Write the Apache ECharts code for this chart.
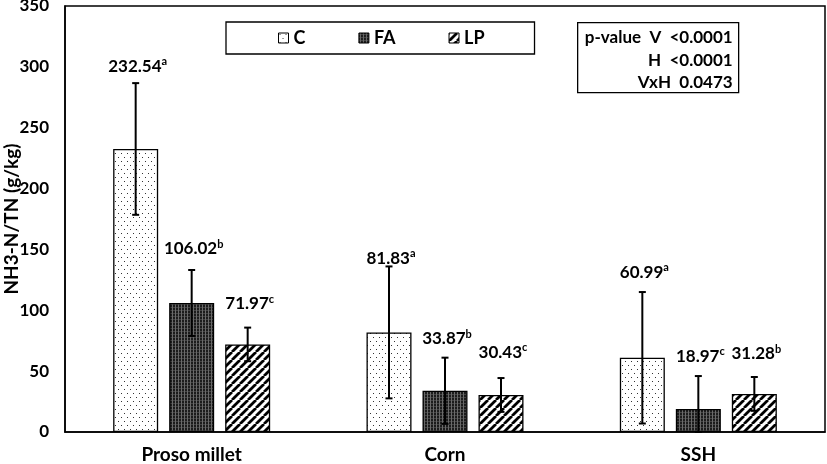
<!DOCTYPE html>
<html><head><meta charset="utf-8">
<script src="https://cdn.jsdelivr.net/npm/echarts@6/dist/echarts.min.js"></script>
<style>html,body{margin:0;padding:0;background:#fff}#c{width:827px;height:464px}</style>
</head><body><div id="c"></div>
<script>
// ---------- data ----------
const categories = ['Proso millet', 'Corn', 'SSH'];
const seriesNames = ['C', 'FA', 'LP'];
const meanC  = [232.54, 81.83, 60.99];
const meanFA = [106.02, 33.87, 18.97];
const meanLP = [71.97, 30.43, 31.28];
const sdC  = [54.1, 54.2, 54.0];
const sdFA = [27.1, 27.2, 27.0];
const sdLP = [13.8, 13.9, 13.9];
const letterC  = ['a', 'a', 'a'];
const letterFA = ['b', 'b', 'c'];
const letterLP = ['c', 'c', 'b'];
const yMin = 0, yMax = 350, yInterval = 50;
const pValueLines = ['p-value  V  <0.0001', 'H  <0.0001', 'VxH  0.0473'];

// ---------- style ----------
const FONT = 'Lato';
const BAR_W = 45, GAP_PX = 11;
// label distance (px) above error bar top, per group/category
const labelGapC  = [17, 8, 20];
const labelGapFA = [21, 19, 20];
const labelGapLP = [24, 26, 23];

function makeTile(w, h, draw) {
  const c = document.createElement('canvas'); c.width = w; c.height = h;
  draw(c.getContext('2d'), w, h); return c;
}
const dotTile = makeTile(6, 8, g => {
  g.fillStyle = '#fff'; g.fillRect(0, 0, 6, 8);
  g.fillStyle = '#333'; g.fillRect(1, 1, 1, 1); g.fillRect(4, 5, 1, 1);
});
const denseTile = makeTile(3, 3, g => {
  g.fillStyle = '#1c1c1c'; g.fillRect(0, 0, 3, 3);
  g.fillStyle = '#6a6a6a'; g.fillRect(1, 0, 1, 3);
  g.fillStyle = '#444'; g.fillRect(0, 1, 1, 1); g.fillRect(2, 1, 1, 1);
});
const stripeTile = makeTile(8, 8, g => {
  g.fillStyle = '#fff'; g.fillRect(0, 0, 8, 8);
  g.strokeStyle = '#000'; g.lineWidth = 2.8; g.beginPath();
  for (const o of [-8, 0, 8]) { g.moveTo(o, 8); g.lineTo(o + 8, 0); }
  g.stroke();
});
const patterns = [dotTile, denseTile, stripeTile].map(t => ({ image: t, repeat: 'repeat' }));

const means = [meanC, meanFA, meanLP];
const sds = [sdC, sdFA, sdLP];
const letters = [letterC, letterFA, letterLP];
const gaps = [labelGapC, labelGapFA, labelGapLP];

const barSeries = seriesNames.map((n, i) => ({
  name: n, type: 'bar', data: means[i],
  barWidth: BAR_W, barGap: (GAP_PX / BAR_W * 100) + '%',
  itemStyle: { color: patterns[i], borderColor: '#000', borderWidth: 1.3 }
}));

const errData = [], errMeta = [];
for (let g = 0; g < 3; g++) for (let c = 0; c < categories.length; c++) {
  errData.push([c, means[g][c], sds[g][c], g]);
  errMeta.push({ letter: letters[g][c], gap: gaps[g][c] });
}

const richStyle = {
  v: { fontSize: 17, fontWeight: 'bold', fontFamily: FONT, fill: '#000', lineHeight: 20 },
  s: { fontSize: 11, fontWeight: 'bold', fontFamily: FONT, fill: '#000', lineHeight: 11, verticalAlign: 'top' }
};

const errSeries = {
  type: 'custom', name: 'err', encode: { x: 0, y: 1 }, data: errData, z: 5,
  renderItem(params, api) {
    const c = api.value(0), m = api.value(1), s = api.value(2), g = api.value(3);
    const off = (g - 1) * (BAR_W + GAP_PX);
    const top = api.coord([c, m + s]);
    const bot = api.coord([c, Math.max(yMin, m - s)]);
    const x = top[0] + off, h = 3.5;
    const meta = errMeta[params.dataIndex];
    const ls = { stroke: '#000', lineWidth: 2 };
    return { type: 'group', children: [
      { type: 'line', shape: { x1: x, y1: top[1], x2: x, y2: bot[1] }, style: ls },
      { type: 'line', shape: { x1: x - h, y1: top[1], x2: x + h, y2: top[1] }, style: ls },
      { type: 'line', shape: { x1: x - h, y1: bot[1], x2: x + h, y2: bot[1] }, style: ls },
      { type: 'text', style: {
          text: '{v|' + m.toFixed(2) + '}{s|' + meta.letter + '}',
          x: x + 2, y: top[1] - meta.gap, align: 'center', verticalAlign: 'middle',
          rich: richStyle, fill: '#000' } }
    ]};
  }
};

const chart = echarts.init(document.getElementById('c'));
chart.setOption({
  animation: false,
  backgroundColor: '#fff',
  grid: { left: 65, right: 2, top: 6, bottom: 32, show: true, borderColor: '#000', borderWidth: 1.5,
          outerBoundsMode: 'none', containLabel: false },
  legend: {
    data: seriesNames, left: 226, top: 22, itemWidth: 10, itemHeight: 10, itemGap: 53,
    padding: [7, 50, 7, 52], borderColor: '#000', borderWidth: 1.3, icon: 'rect',
    itemStyle: { borderColor: '#000', borderWidth: 1 },
    textStyle: { fontSize: 18, fontWeight: 'bold', fontFamily: FONT, color: '#000' }
  },
  xAxis: {
    type: 'category', data: categories,
    axisTick: { show: false },
    axisLine: { lineStyle: { color: '#000', width: 1.5 } },
    axisLabel: { fontSize: 19, fontWeight: 'bold', fontFamily: FONT, color: '#000', margin: 13 }
  },
  yAxis: {
    type: 'value', min: yMin, max: yMax, interval: yInterval,
    name: 'NH3-N/TN (g/kg)', nameLocation: 'middle', nameGap: 44, nameMoveOverlap: false,
    nameTextStyle: { fontSize: 19, fontWeight: 'bold', fontFamily: FONT, color: '#000' },
    axisLine: { show: true, lineStyle: { color: '#000', width: 1.5 } },
    axisTick: { show: false }, splitLine: { show: false },
    axisLabel: { fontSize: 17, fontWeight: 'bold', fontFamily: FONT, color: '#000', margin: 16 }
  },
  graphic: [{
    type: 'group', left: 577, top: 22, children: [
      { type: 'rect', shape: { x: 0, y: 0, width: 161, height: 70 }, style: { fill: '#fff', stroke: '#000', lineWidth: 1.3 } },
      ...pValueLines.map((t, i) => ({
        type: 'text', style: { text: t, x: 155, y: 15 + i * 22.5, align: 'right', verticalAlign: 'middle',
          font: 'bold 17px ' + FONT, fill: '#000' } }))
    ]
  }],
  series: [...barSeries, errSeries]
});
</script></body></html>
